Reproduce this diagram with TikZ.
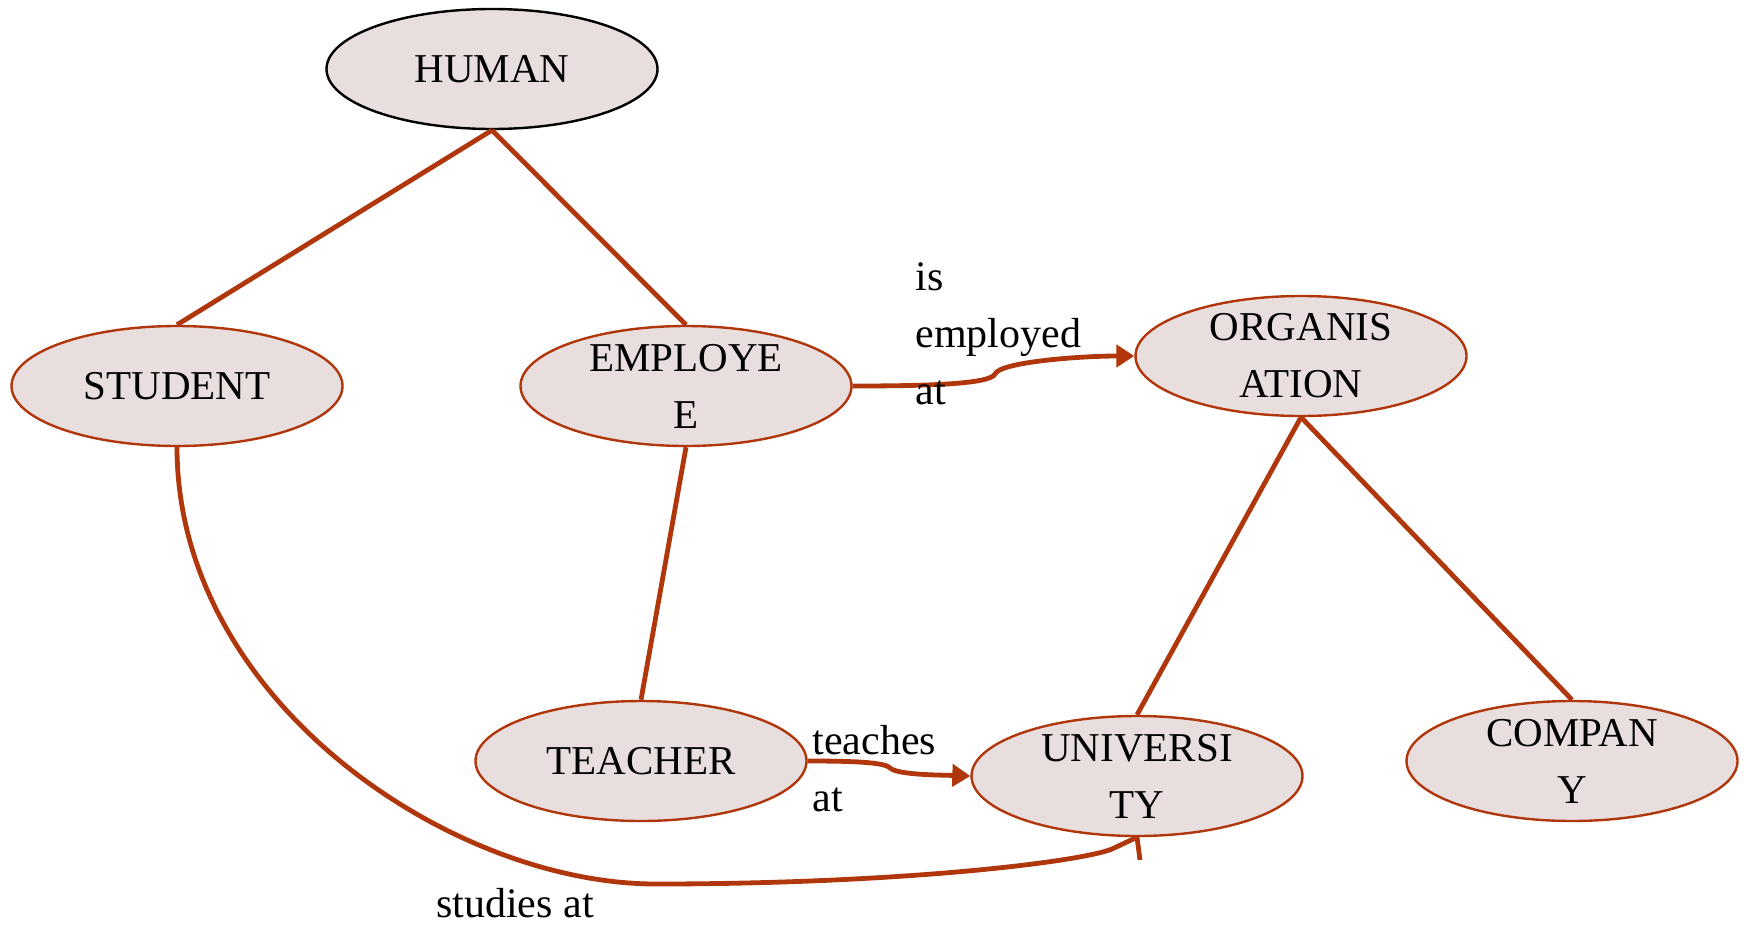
\documentclass[tikz,border=0pt]{standalone}
\usepackage{fontspec}
\setmainfont{Liberation Serif}
\usetikzlibrary{shapes.geometric,arrows.meta}
\definecolor{edgec}{RGB}{176,54,12}
\definecolor{fillc}{RGB}{232,222,222}
\begin{document}
\begin{tikzpicture}[x=0.5pt,y=-0.5pt,
  concept/.style={ellipse, draw=edgec, line width=1.2pt, fill=fillc,
    minimum width=165.5pt, minimum height=60pt, inner sep=0pt, align=center,
    font=\fontsize{20.5}{28.5}\selectfont},
  link/.style={draw=edgec, line width=2.4pt},
  arr/.style={link, -{Triangle[length=9pt,width=11pt]}},
  lbl/.style={align=left, inner sep=0pt, font=\fontsize{21}{28.5}\selectfont}]
\useasboundingbox (0,0) rectangle (1744,926);
\coordinate (stub) at (1140,860);
\node[concept, draw=black] (human) at (492,69) {HUMAN};
\node[concept] (student) at (177,386) {STUDENT};
\node[concept] (employee) at (686,386) {EMPLOYE\\E};
\node[concept] (org) at (1301,356) {ORGANIS\\ATION};
\node[concept] (teacher) at (641,761) {TEACHER};
\node[concept] (univ) at (1137,776) {UNIVERSI\\TY};
\node[concept] (company) at (1572,761) {COMPAN\\Y};
\draw[link] (human.south) -- (student.north);
\draw[link] (human.south) -- (employee.north);
\draw[link] (employee.south) -- (teacher.north);
\draw[link] (org.south) -- (univ.north);
\draw[link] (org.south) -- (company.north);
\draw[arr] (employee.east) .. controls (930,386) and (990,384) .. (995,374)
  .. controls (1000,362) and (1080,356) .. (org.west);
\draw[arr] (teacher.east) .. controls (850,761) and (885,762) .. (890,768)
  .. controls (898,775) and (940,775) .. (univ.west);
\draw[link] (student.south) .. controls (177,700) and (450,884) .. (656,884)
  .. controls (900,884) and (1080,862) .. (1112,849) -- (univ.south);
\draw[link] (univ.south) -- (stub);
\node[lbl, anchor=north west] (lemp) at (915,262) {is\\employed\\at};
\node[lbl, anchor=north west] (lteach) at (812,725) {teaches\\at};
\node[lbl, anchor=base] (lstud) at (515,917) {studies at};
\end{tikzpicture}
\end{document}
